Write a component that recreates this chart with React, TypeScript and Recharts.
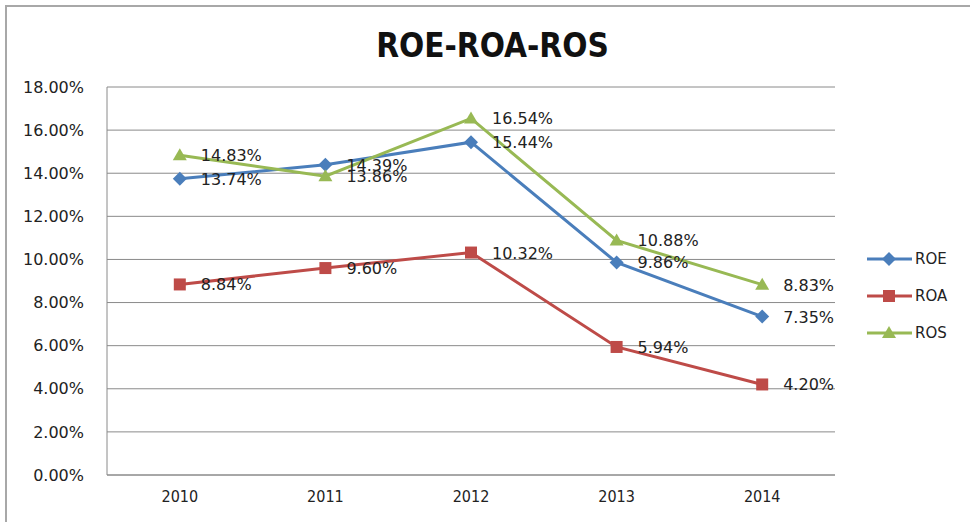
import React from "react";
import { LineChart, Line, XAxis, YAxis, CartesianGrid, LabelList, Legend } from "recharts";

const years = ["2010", "2011", "2012", "2013", "2014"];
const roe = [13.74, 14.39, 15.44, 9.86, 7.35];
const roa = [8.84, 9.6, 10.32, 5.94, 4.2];
const ros = [14.83, 13.86, 16.54, 10.88, 8.83];
const yTicks = [0, 2, 4, 6, 8, 10, 12, 14, 16, 18];

const BLUE = "#4a7ebb";
const RED = "#be4b48";
const GREEN = "#98b954";
const LABEL_FONT = "'DejaVu Sans', Verdana, sans-serif";
const NARROW_FONT = "'Liberation Sans Narrow', 'DejaVu Sans Condensed', sans-serif";

const data = years.map((year, i) => ({ year, ROE: roe[i], ROA: roa[i], ROS: ros[i] }));

const pct = (v: number) => v.toFixed(2) + "%";

function Marker({ kind, cx, cy, color }: { kind: string; cx: number; cy: number; color: string }) {
  if (kind === "diamond") {
    const r = 7;
    return <polygon points={`${cx},${cy - r} ${cx + r},${cy} ${cx},${cy + r} ${cx - r},${cy}`} fill={color} />;
  }
  if (kind === "square") {
    const s = 6;
    return <rect x={cx - s} y={cy - s} width={s * 2} height={s * 2} fill={color} />;
  }
  return <polygon points={`${cx},${cy - 7} ${cx + 7},${cy + 5} ${cx - 7},${cy + 5}`} fill={color} />;
}

const dotFor = (kind: string, color: string) => (p: any) =>
  <Marker key={`${kind}-${p.index}`} kind={kind} cx={p.cx} cy={p.cy} color={color} />;

const renderLabel = (p: any) => (
  <text x={p.x + 21} y={p.y + 6} fontSize={16} fontFamily={LABEL_FONT} fill="#222">
    {pct(Number(p.value))}
  </text>
);

const legendItems = [
  { name: "ROE", color: BLUE, kind: "diamond" },
  { name: "ROA", color: RED, kind: "square" },
  { name: "ROS", color: GREEN, kind: "triangle" },
];

function LegendBox() {
  return (
    <div>
      {legendItems.map((it) => (
        <div key={it.name} style={{ display: "flex", alignItems: "center", height: 37 }}>
          <svg width={47} height={16}>
            <line x1={1} y1={8} x2={46} y2={8} stroke={it.color} strokeWidth={3} />
            <Marker kind={it.kind} cx={23} cy={8} color={it.color} />
          </svg>
          <span style={{ fontFamily: LABEL_FONT, fontSize: 15, color: "#222", marginLeft: 2 }}>{it.name}</span>
        </div>
      ))}
    </div>
  );
}

export default function App() {
  return (
    <div style={{ position: "absolute", left: 0, top: 0, width: 970, height: 522, background: "#fff", overflow: "hidden" }}>
      <div style={{ position: "absolute", left: 5, top: 5, width: 980, height: 540, borderTop: "2px solid #a8a8a8", borderLeft: "2px solid #a8a8a8" }} />
      <div style={{ position: "absolute", left: 0, top: 26, width: 985, textAlign: "center", fontFamily: NARROW_FONT, fontWeight: "bold", fontSize: 33, color: "#111" }}>
        ROE-ROA-ROS
      </div>
      <LineChart width={970} height={522} data={data} margin={{ top: 87, right: 35, bottom: 17, left: 0 }} style={{ position: "absolute", left: 0, top: 0 }}>
        <CartesianGrid vertical={false} stroke="#8a8a8a" />
        <XAxis
          dataKey="year"
          height={30}
          padding={{ left: 72.8, right: 72.8 }}
          stroke="#8a8a8a"
          tickLine={false}
          tickSize={0}
          tickMargin={16}
          tick={{ fill: "#222", fontSize: 16, fontFamily: NARROW_FONT }}
        />
        <YAxis
          domain={[0, 18]}
          ticks={yTicks}
          width={107}
          stroke="#8a8a8a"
          tickLine={false}
          tickSize={0}
          tickMargin={23}
          tickFormatter={pct}
          tick={{ fill: "#222", fontSize: 16, fontFamily: LABEL_FONT }}
          interval={0}
        />
        <Legend
          layout="vertical"
          align="right"
          verticalAlign="middle"
          content={() => <LegendBox />}
          wrapperStyle={{ left: 866, right: "auto", top: 240, width: 100 }}
        />
        <Line dataKey="ROE" stroke={BLUE} strokeWidth={3} dot={dotFor("diamond", BLUE)} isAnimationActive={false}>
          <LabelList dataKey="ROE" content={renderLabel} />
        </Line>
        <Line dataKey="ROA" stroke={RED} strokeWidth={3} dot={dotFor("square", RED)} isAnimationActive={false}>
          <LabelList dataKey="ROA" content={renderLabel} />
        </Line>
        <Line dataKey="ROS" stroke={GREEN} strokeWidth={3} dot={dotFor("triangle", GREEN)} isAnimationActive={false}>
          <LabelList dataKey="ROS" content={renderLabel} />
        </Line>
      </LineChart>
    </div>
  );
}
